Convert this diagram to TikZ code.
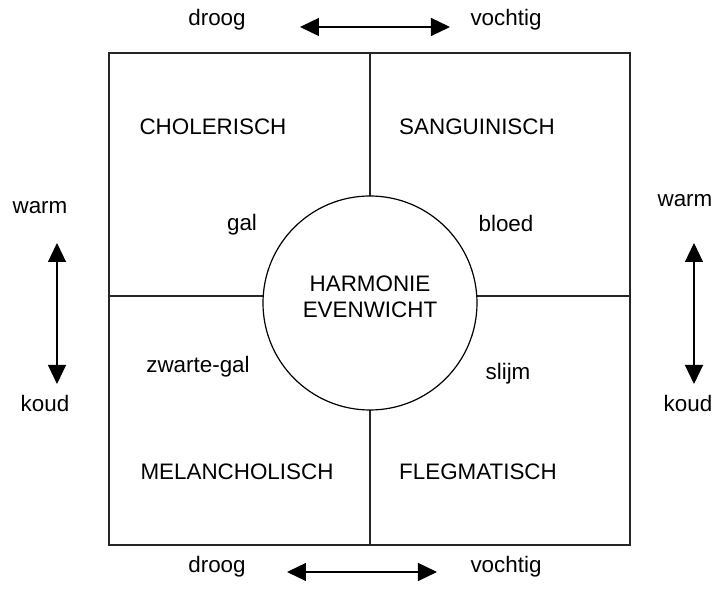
\documentclass[tikz,border=0pt]{standalone}
\usepackage{fontspec}
\setmainfont{Liberation Sans}
\usetikzlibrary{arrows.meta}
\begin{document}
\begin{tikzpicture}[x=0.5pt,y=-0.5pt,
  lbl/.style={font=\fontsize{11.2pt}{13pt}\selectfont, inner sep=0pt, anchor=center},
  frame/.style={draw=black!85, line width=0.6pt},
  dbl/.style={line width=0.6pt, {Triangle[width=9pt,length=9.5pt]}-{Triangle[width=9pt,length=9.5pt]}}]
\useasboundingbox (0,0) rectangle (720,592);
% square and dividers
\draw[frame] (109,53) rectangle (630,545);
\draw[frame] (370,53) -- (370,545);
\draw[frame] (109,296) -- (630,296);
\node[circle, draw=black, line width=0.6pt, fill=white, minimum size=214*0.5pt, inner sep=0pt] (c) at (370,303) {};
\node[lbl, align=center] (ht) at (370,297) {HARMONIE\\EVENWICHT};
% quadrant labels
\node[lbl] (chol) at (213,127) {CHOLERISCH};
\node[lbl] (sang) at (477,127) {SANGUINISCH};
\node[lbl] (gal) at (242,225) {gal};
\node[lbl] (bloed) at (506,224) {bloed};
\node[lbl] (zg) at (198,367) {zwarte-gal};
\node[lbl] (slijm) at (508,374) {slijm};
\node[lbl] (mel) at (237,472) {MELANCHOLISCH};
\node[lbl] (fleg) at (478,472) {FLEGMATISCH};
% top
\node[lbl] (d1) at (217,20) {droog};
\node[lbl] (v1) at (506,20) {vochtig};
\coordinate (t1) at (300,27);
\coordinate (t2) at (450,27);
\draw[dbl] (t1) -- (t2);
% bottom
\node[lbl] (d2) at (217,567) {droog};
\node[lbl] (v2) at (506,567) {vochtig};
\coordinate (b1) at (287,572);
\coordinate (b2) at (437,572);
\draw[dbl] (b1) -- (b2);
% left
\node[lbl] (w1) at (40,208) {warm};
\node[lbl] (k1) at (45,404) {koud};
\coordinate (l1) at (57,243);
\coordinate (l2) at (57,384);
\draw[dbl] (l1) -- (l2);
% right
\node[lbl] (w2) at (685,201) {warm};
\node[lbl] (k2) at (688,404) {koud};
\coordinate (r1) at (694,243);
\coordinate (r2) at (694,384);
\draw[dbl] (r1) -- (r2);
\end{tikzpicture}
\end{document}
